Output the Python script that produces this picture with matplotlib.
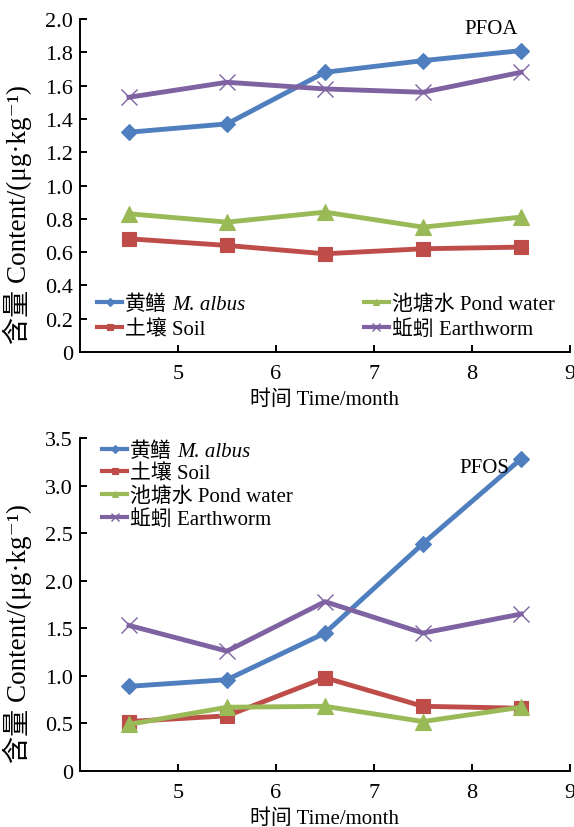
import matplotlib
matplotlib.use("Agg")
import matplotlib.pyplot as plt
from matplotlib.ticker import FixedLocator, FuncFormatter

plt.rcParams['font.family'] = ['Liberation Serif', 'Noto Sans CJK SC', 'DejaVu Serif']

months = [4.5, 5.5, 6.5, 7.5, 8.5]
series_labels = ["黄鳝", "土壤 Soil", "池塘水 Pond water", "蚯蚓 Earthworm"]
italic_suffix = "M. albus"

pfoa_albus = [1.32, 1.37, 1.68, 1.75, 1.81]
pfoa_soil = [0.68, 0.64, 0.59, 0.62, 0.63]
pfoa_water = [0.83, 0.78, 0.84, 0.75, 0.81]
pfoa_worm = [1.53, 1.62, 1.58, 1.56, 1.68]

pfos_albus = [0.89, 0.96, 1.45, 2.39, 3.28]
pfos_soil = [0.52, 0.58, 0.98, 0.68, 0.66]
pfos_water = [0.49, 0.67, 0.68, 0.52, 0.67]
pfos_worm = [1.53, 1.26, 1.78, 1.45, 1.65]

x_ticks = [5, 6, 7, 8, 9]
pfoa_yticks = [0, 0.2, 0.4, 0.6, 0.8, 1.0, 1.2, 1.4, 1.6, 1.8, 2.0]
pfos_yticks = [0, 0.5, 1.0, 1.5, 2.0, 2.5, 3.0, 3.5]

colors = ['#4F7FBE', '#BE4D4A', '#9ABA58', '#7E62A1']
markers = ['D', 's', '^', 'x']
msizes = [8, 10.5, 11, 11.5]

fig = plt.figure(figsize=(5.74, 8.28), dpi=100)
ax1 = fig.add_axes([80/574, 1-353/828, 490/574, 333/828])
ax2 = fig.add_axes([80/574, 1-772/828, 490/574, 333/828])

TICK_FS = 16
LAB_FS = 15
YLAB_FS = 19.5
LEG_FS = 15

def style(ax, yticks, title, tpos):
    ax.set_xlim(4, 9)
    ax.set_ylim(yticks[0], yticks[-1])
    ax.spines['top'].set_visible(False)
    ax.spines['right'].set_visible(False)
    for s in ('left', 'bottom'):
        ax.spines[s].set_linewidth(1.4)
    ax.xaxis.set_major_locator(FixedLocator(x_ticks))
    ax.yaxis.set_major_locator(FixedLocator(yticks))
    ax.yaxis.set_major_formatter(FuncFormatter(lambda v, p: '0' if v == 0 else f'{v:.1f}'))
    ax.tick_params(direction='in', length=5, width=1.4, labelsize=TICK_FS)
    ax.tick_params(axis='x', pad=9)
    ax.tick_params(axis='y', pad=5)
    ax.set_xlabel('时间 Time/month', fontsize=LAB_FS, labelpad=4)
    ax.set_ylabel('含量 Content/(μg·kg⁻¹)', fontsize=YLAB_FS)
    ax.yaxis.set_label_coords(-0.098, 0.415)
    ax.text(tpos[0], tpos[1], title, transform=ax.transAxes, ha='right', va='center', fontsize=15)

def draw(ax, data):
    handles = []
    for vals, c, m, ms, lab in zip(data, colors, markers, msizes, series_labels):
        h, = ax.plot(months, vals, color=c, lw=3.5, marker=m, markersize=ms,
                     markeredgewidth=1.0 if m == 'x' else 0.8, markeredgecolor=c,
                     label=lab, clip_on=False)
        handles.append(h)
    return handles

def add_italic(ax, leg):
    t = leg.get_texts()[0]
    ax.annotate(italic_suffix, xy=(1, 0.5), xycoords=t, xytext=(4, 0),
                textcoords='offset points', va='center', ha='left',
                fontsize=LEG_FS, style='italic', zorder=20)

h1 = draw(ax1, [pfoa_albus, pfoa_soil, pfoa_water, pfoa_worm])
style(ax1, pfoa_yticks, 'PFOA', (0.894, 0.97))
leg1 = ax1.legend(handles=h1, loc='upper left', bbox_to_anchor=(0.035, 0.172), ncol=2,
                  frameon=False, fontsize=LEG_FS, handlelength=1.2, handletextpad=0.15,
                  borderpad=0, borderaxespad=0, labelspacing=0.25, columnspacing=7.6,
                  markerscale=0.45)
for l in leg1.get_lines():
    l.set_linewidth(3)
add_italic(ax1, leg1)

h2 = draw(ax2, [pfos_albus, pfos_soil, pfos_water, pfos_worm])
style(ax2, pfos_yticks, 'PFOS', (0.875, 0.91))
leg2 = ax2.legend(handles=h2, loc='upper left', bbox_to_anchor=(0.045, 0.99), ncol=1,
                  frameon=False, fontsize=LEG_FS, handlelength=1.2, handletextpad=0.15,
                  borderpad=0, borderaxespad=0, labelspacing=0.15,
                  markerscale=0.45)
for l in leg2.get_lines():
    l.set_linewidth(3)
add_italic(ax2, leg2)

fig.savefig('out.png', dpi=100)
